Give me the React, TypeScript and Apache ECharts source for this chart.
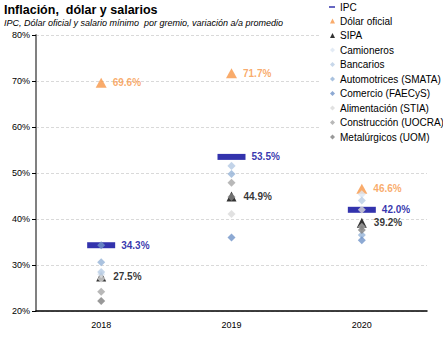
import React, { useEffect, useRef } from "react";
import * as echarts from "echarts";

const years = ["2018", "2019", "2020"];
const ipc = [34.3, 53.5, 42.0];
const dolar = [69.6, 71.7, 46.6];
const sipa = [27.5, 44.9, 39.2];
const camioneros = [28.0, 51.6, 45.4];
const bancarios = [28.5, 51.5, 44.0];
const automotrices = [30.6, 49.8, 36.5];
const comercio = [34.3, 36.0, 35.4];
const alimentacion = [27.0, 41.1, 42.0];
const construccion = [24.2, 47.9, 38.3];
const metalurgicos = [22.2, 44.8, 37.6];

const gremios = [
  { name: "Camioneros", data: camioneros, color: "#dce6f2" },
  { name: "Bancarios", data: bancarios, color: "#b9cde5" },
  { name: "Automotrices (SMATA)", data: automotrices, color: "#95b3d7" },
  { name: "Comercio (FAECyS)", data: comercio, color: "#7094c8" },
  { name: "Alimentación (STIA)", data: alimentacion, color: "#d9d9d9" },
  { name: "Construcción (UOCRA)", data: construccion, color: "#a6a6a6" },
  { name: "Metalúrgicos (UOM)", data: metalurgicos, color: "#7f7f7f" },
];

const FONT = "Liberation Sans";

export default function App() {
  const ref = useRef<HTMLDivElement>(null);
  useEffect(() => {
    if (!ref.current) return;
    const chart = echarts.init(ref.current, null, { renderer: "svg" });
    const labelFmt = (p: any) => p.value.toFixed(1) + "%";
    const series: any[] = [
      {
        name: "IPC",
        type: "scatter",
        data: ipc,
        symbol: "rect",
        symbolSize: [28, 6],
        itemStyle: { color: "#000099" },
        label: {
          show: true,
          position: "right",
          distance: 6,
          formatter: labelFmt,
          color: "#000099",
          fontWeight: "bold",
          fontSize: 10,
          fontFamily: FONT,
        },
      },
      {
        name: "Dólar oficial",
        type: "scatter",
        data: dolar,
        symbol: "triangle",
        symbolSize: [11, 10],
        itemStyle: { color: "#f79646" },
        label: {
          show: true,
          position: "right",
          distance: 6,
          formatter: labelFmt,
          color: "#f79646",
          fontWeight: "bold",
          fontSize: 10,
          fontFamily: FONT,
        },
      },
      {
        name: "SIPA",
        type: "scatter",
        data: sipa,
        symbol: "triangle",
        symbolSize: [10, 10],
        itemStyle: { color: "#000000" },
        label: {
          show: true,
          position: "right",
          distance: 7,
          formatter: labelFmt,
          color: "#000000",
          fontWeight: "bold",
          fontSize: 10,
          fontFamily: FONT,
        },
      },
      ...gremios.map((g) => ({
        name: g.name,
        type: "scatter",
        data: g.data,
        symbol: "diamond",
        symbolSize: [8, 8],
        itemStyle: { color: g.color },
      })),
    ];
    chart.setOption({
      animation: false,
      textStyle: { fontFamily: FONT },
      title: [
        {
          text: "Inflación,  dólar y salarios",
          left: 4,
          top: 3,
          padding: 0,
          textStyle: { fontSize: 12.5, lineHeight: 14, fontWeight: "bold", color: "#000", fontFamily: FONT },
        },
        {
          text: "IPC, Dólar oficial y salario mínimo  por gremio, variación a/a promedio",
          left: 4,
          top: 18,
          padding: 0,
          textStyle: { fontSize: 9, lineHeight: 10, fontStyle: "italic", fontWeight: "normal", color: "#000", fontFamily: FONT },
        },
      ],
      graphic: [
        {
          type: "rect",
          z: 1,
          shape: { x: 320, y: 0, width: 123, height: 148 },
          style: { fill: "#fff" },
        },
      ],
      legend: [
        {
          data: [{ name: "IPC", icon: "rect" }],
          orient: "vertical",
          left: 329,
          top: 1,
          padding: 0,
          itemWidth: 6,
          itemHeight: 1.5,
          itemGap: 2.5,
          textStyle: { fontSize: 10, color: "#000", fontFamily: FONT, lineHeight: 12 },
        },
        {
          data: [
            { name: "Dólar oficial", icon: "triangle" },
            { name: "SIPA", icon: "triangle" },
            ...gremios.map((g) => ({ name: g.name, icon: "diamond" })),
          ],
          orient: "vertical",
          left: 330,
          top: 15,
          padding: 0,
          itemWidth: 5,
          itemHeight: 5,
          itemGap: 2.5,
          textStyle: { fontSize: 10, color: "#000", fontFamily: FONT, lineHeight: 12 },
        },
      ],
      grid: { left: 36, right: 16, top: 35, bottom: 30, containLabel: false, outerBoundsMode: "none" },
      xAxis: {
        type: "category",
        data: years,
        axisLine: { lineStyle: { color: "#000", width: 1.5 } },
        axisTick: { show: false },
        axisLabel: { fontSize: 9, color: "#000", margin: 9, fontFamily: FONT },
        splitLine: { show: false },
      },
      yAxis: {
        type: "value",
        min: 20,
        max: 80,
        interval: 10,
        axisLine: { show: true, lineStyle: { color: "#808080", width: 2 } },
        axisTick: { show: true, length: 4, lineStyle: { color: "#000" } },
        axisLabel: {
          formatter: "{value}%",
          fontSize: 9,
          lineHeight: 10,
          color: "#000",
          margin: 6,
          fontFamily: FONT,
          showMaxLabel: true,
          showMinLabel: true,
        },
        splitLine: { show: true, lineStyle: { color: "#d9d9d9", type: [3, 2], width: 1 } },
      },
      series,
    });
    return () => chart.dispose();
  }, []);
  return <div ref={ref} style={{ width: 443, height: 341, position: "absolute", left: 0, top: 0 }} />;
}
